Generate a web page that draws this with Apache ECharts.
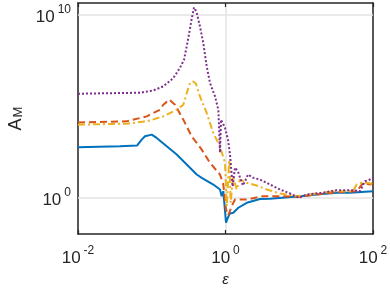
<!DOCTYPE html>
<html><head><meta charset="utf-8">
<script src="https://cdn.jsdelivr.net/npm/echarts@6/dist/echarts.min.js"></script>
<style>html,body{margin:0;padding:0;background:#fff}#c{width:390px;height:288px}</style>
</head><body><div id="c"></div>
<script>
// tick labels (exponents of 10)
const xTickExponents = [-2, 0, 2];
const yTickExponents = [0, 10];
const yGridValues = [1, 1e10];
const seriesColors = ['#0072BD', '#D95319', '#EDB120', '#7E2F8E'];

// series values [epsilon, A_M]
const blueData = [[0.01,561],[0.0371,636],[0.0631,695],[0.0731,1477],[0.081,2239],[0.0998,2772],[0.1167,1829],[0.1595,636],[0.218,224],[0.298,63.5],[0.407,18.1],[0.476,11.9],[0.683,5.13],[0.842,2.74],[0.888,1.18],[0.934,2.21],[1.016,0.0414],[1.081,0.0807],[1.151,0.134],[1.276,0.146],[1.492,0.274],[1.939,0.513],[2.936,0.828],[4.012,0.849],[10.24,1.18],[17.25,1.46],[32.2,1.81],[48.8,1.81],[100,2.21]];
const orangeData = [[0.01,1.30e4],[0.0457,1.48e4],[0.0854,2.77e4],[0.105,4.25e4],[0.1294,6.44e4],[0.1434,1.21e5],[0.173,2.27e5],[0.2066,1.21e5],[0.268,1.83e4],[0.348,2240],[0.476,420],[0.6165,78.7],[0.842,18.1],[0.934,5.13],[1.016,0.221],[1.091,0.104],[1.214,0.335],[1.345,0.778],[1.573,0.778],[1.939,0.778],[3.225,1.18],[5.48,1.18],[10.24,1.09],[17.25,1.46],[32.2,1.95],[60.1,2.21],[73.9,6.36],[91.1,5.13],[100,6.36]];
const yellowData = [[0.01,9750],[0.0457,1.11e4],[0.0854,1.48e4],[0.1434,2.77e4],[0.218,6.44e4],[0.268,1.21e5],[0.2823,1.0e5],[0.298,5.26e5],[0.330,1.85e6],[0.366,2.27e6],[0.398,1.70e6],[0.451,3.43e5],[0.556,4.25e4],[0.683,3430],[0.842,636],[0.925,181],[0.984,81.8],[1.038,0.335],[1.126,119],[1.176,0.513],[1.264,14.6],[1.419,2.74],[1.573,9.63],[1.939,6.36],[2.649,4.53],[3.62,2.74],[5.48,1.65],[9.71,1.18],[13.99,1.46],[28.7,2.21],[53.6,2.21],[60.1,5.13],[70.3,6.36],[85.6,6.36],[100,5.13]];
const purpleData = [[0.01,4.82e5],[0.0371,5.26e5],[0.0693,5.47e5],[0.105,7.30e5],[0.1434,1.21e6],[0.196,3.48e6],[0.2416,1.27e7],[0.2738,3.48e7],[0.310,4.31e8],[0.346,5.33e9],[0.374,2.57e10],[0.4044,1.46e10],[0.451,2.30e9],[0.500,2.84e8],[0.556,1.50e7],[0.6165,1.85e6],[0.7207,3.43e5],[0.799,6.44e4],[0.816,9750],[0.842,288],[0.869,1.83e4],[0.984,6680],[1.081,1480],[1.151,224],[1.252,3.99],[1.345,43.6],[1.477,26.4],[1.573,12.4],[1.727,4.53],[2.019,18.1],[2.382,11.9],[2.936,9.63],[4.012,5.13],[5.48,2.74],[7.49,1.65],[10.02,0.963],[12.62,1.46],[20.99,1.81],[32.2,2.51],[53.6,2.51],[66.6,2.21],[77.9,7.78],[91.1,9.63],[100,12.4]];

const FONT = 'Liberation Sans';
const AXC = '#262626';
const rich = {
  b: {fontSize: 17, fontFamily: FONT, color: AXC, verticalAlign: 'bottom', lineHeight: 22},
  s: {fontSize: 12, fontFamily: FONT, color: AXC, verticalAlign: 'top', padding: [0,0,0,3], lineHeight: 22}
};
function expOf(v){ return Math.round(Math.log10(v)); }
function near(v, e){ return Math.abs(Math.log10(v) - e) < 1e-6; }

const chart = echarts.init(document.getElementById('c'), null, {renderer: 'canvas'});
const lineBase = {type: 'line', showSymbol: false, symbol: 'none', xAxisIndex: 0, yAxisIndex: 0};
chart.setOption({
  animation: false,
  backgroundColor: '#fff',
  grid: {left: 78, right: 17, top: 3, bottom: 54, containLabel: false, outerBoundsMode: 'none'},
  xAxis: [{
    type: 'log', logBase: 10, min: 0.01, max: 100, interval: 2, position: 'bottom',
    axisLine: {show: true, lineStyle: {color: AXC, width: 1.5}},
    axisTick: {show: true, inside: true, length: 4, lineStyle: {color: AXC, width: 1.2}},
    minorTick: {show: false},
    splitLine: {show: true, lineStyle: {color: '#e3e3e3', width: 1.5}},
    axisLabel: {margin: 11, rich: rich, formatter: function(v){
      const e = expOf(v);
      if (xTickExponents.indexOf(e) < 0 || !near(v, e)) return '';
      return '{b|10}{s|' + (e < 0 ? '-' + Math.abs(e) : e) + '}';
    }},
    name: 'ε', nameLocation: 'middle', nameGap: 36,
    nameTextStyle: {fontSize: 15, fontStyle: 'italic', fontFamily: FONT, color: AXC}
  }, {
    type: 'log', logBase: 10, min: 0.01, max: 100, interval: 2, position: 'top',
    axisLine: {show: true, lineStyle: {color: AXC, width: 1.5}},
    axisTick: {show: true, inside: true, length: 4, lineStyle: {color: AXC, width: 1.2}},
    axisLabel: {show: false}, splitLine: {show: false}
  }],
  yAxis: [{
    type: 'log', logBase: 10, min: 0.01, max: 4.5e10, interval: 1, position: 'left',
    axisLine: {show: true, lineStyle: {color: AXC, width: 1.5}},
    axisTick: {show: false},
    splitLine: {show: false},
    axisLabel: {margin: 7, rich: rich, formatter: function(v){
      const e = expOf(v);
      if (yTickExponents.indexOf(e) < 0 || !near(v, e)) return '';
      return '{b|10}{s|' + e + '}';
    }},
    name: '{a|A}{m|M}', nameLocation: 'middle', nameGap: 44, nameRotate: 90,
    nameTextStyle: {rich: {
      a: {fontSize: 18, fontFamily: FONT, color: AXC, verticalAlign: 'bottom', lineHeight: 22},
      m: {fontSize: 13, fontFamily: FONT, color: AXC, verticalAlign: 'bottom', lineHeight: 16, padding: [0,0,0,1]}
    }}
  }, {
    type: 'log', logBase: 10, min: 0.01, max: 4.5e10, interval: 1, position: 'right',
    axisLine: {show: true, lineStyle: {color: AXC, width: 1.5}},
    axisTick: {show: false}, axisLabel: {show: false}, splitLine: {show: false}
  }],
  series: [
    Object.assign({}, lineBase, {name: 'blue', data: blueData, z: 3,
      lineStyle: {color: seriesColors[0], width: 2},
      markLine: {silent: true, symbol: 'none', z: 1, label: {show: false}, animation: false,
        lineStyle: {color: '#e3e3e3', width: 1.5, type: 'solid'},
        emphasis: {disabled: true},
        data: yGridValues.map(function(v){ return {yAxis: v}; })}}),
    Object.assign({}, lineBase, {name: 'orange', data: orangeData, z: 4,
      lineStyle: {color: seriesColors[1], width: 2, type: [7, 4]}}),
    Object.assign({}, lineBase, {name: 'yellow', data: yellowData, z: 5,
      lineStyle: {color: seriesColors[2], width: 2, type: [7, 3, 2, 3]}}),
    Object.assign({}, lineBase, {name: 'purple', data: purpleData, z: 6,
      lineStyle: {color: seriesColors[3], width: 2, type: [2, 2]}})
  ]
});
</script></body></html>
